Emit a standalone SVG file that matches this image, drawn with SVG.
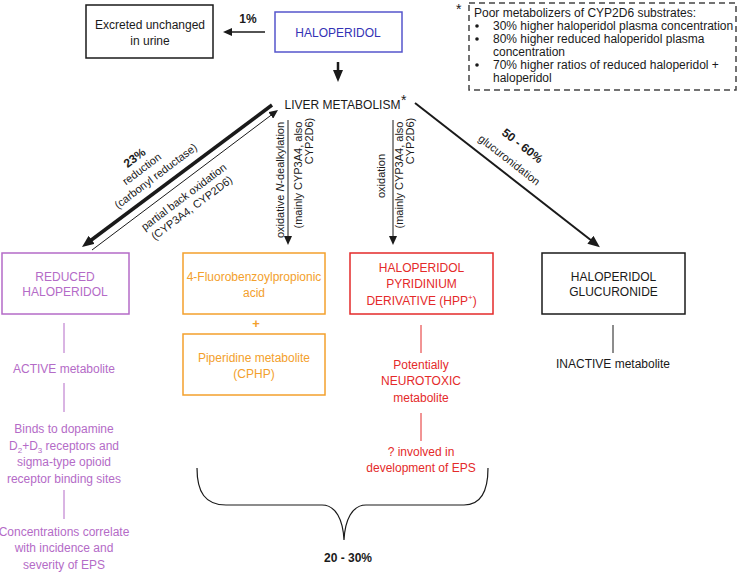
<svg xmlns="http://www.w3.org/2000/svg" width="738" height="572" viewBox="0 0 738 572">
<style>
text{font-family:"Liberation Sans",Arial,sans-serif;font-size:12px;fill:#1a1a1a}
.c{text-anchor:middle}
.s{font-size:11px}
.b{font-weight:bold}
.pu{fill:#b46bc7}
.or{fill:#f3a02c}
.rd{fill:#e42a2a}
.bl{fill:#3333b5}
.box{fill:#fff;stroke-width:1.5}
.ln{fill:none;stroke:#1a1a1a}
</style>
<defs>
<marker id="a" viewBox="0 0 9 8" refX="1" refY="4" markerWidth="9" markerHeight="8" orient="auto" markerUnits="userSpaceOnUse"><path d="M0,0 L9,4 L0,8 z" fill="#1a1a1a"/></marker>
<marker id="ab" viewBox="0 0 12 10" refX="2" refY="5" markerWidth="12" markerHeight="10" orient="auto" markerUnits="userSpaceOnUse"><path d="M0,0 L12,5 L0,10 z" fill="#1a1a1a"/></marker>
</defs>

<g id="connectors">
<line class="ln" x1="265" y1="32" x2="231" y2="32" stroke-width="1.3" marker-end="url(#a)"/>
<line class="ln" x1="338" y1="62" x2="338" y2="72" stroke-width="2.5" marker-end="url(#ab)"/>
<line class="ln" x1="272" y1="105" x2="90" y2="241" stroke-width="3.5" marker-end="url(#ab)"/>
<line class="ln" x1="92" y1="250" x2="271.6" y2="114.8" stroke-width="1" marker-end="url(#a)"/>
<line class="ln" x1="288" y1="120" x2="288" y2="237" stroke-width="1" marker-end="url(#a)"/>
<line class="ln" x1="393" y1="120" x2="393" y2="237" stroke-width="1" marker-end="url(#a)"/>
<line class="ln" x1="415" y1="103" x2="592" y2="241" stroke-width="2" marker-end="url(#ab)"/>
<line x1="64" y1="323" x2="64" y2="353" stroke="#b46bc7"/>
<line x1="64" y1="383" x2="64" y2="412" stroke="#b46bc7"/>
<line x1="64" y1="490" x2="64" y2="519" stroke="#b46bc7"/>
<line x1="421" y1="325" x2="421" y2="353" stroke="#e42a2a"/>
<line x1="421" y1="413" x2="421" y2="441" stroke="#e42a2a"/>
<line x1="613" y1="325" x2="613" y2="353" stroke="#1a1a1a"/>
<path class="ln" stroke="#333" stroke-width="1.2" d="M197,468 C197,492 205,505 226,505 L322,505 C336,505 343,520 344,540 C345,520 352,505 366,505 L464,505 C481,505 488,492 488,468"/>
<text class="c b" x="248" y="23">1%</text>
<text class="b" transform="translate(137,161) rotate(-37)" text-anchor="middle">23%</text>
<text class="s c" transform="translate(144,172) rotate(-37)">reduction</text>
<text class="s c" transform="translate(158,179) rotate(-37)">(carbonyl reductase)</text>
<text class="s c" transform="translate(186,200) rotate(-37)">partial back oxidation</text>
<text class="s c" transform="translate(194,211) rotate(-37)">(CYP3A4, CYP2D6)</text>
<text class="s c" transform="translate(283.5,180) rotate(-90)">oxidative <tspan font-style="italic">N</tspan>-dealkylation</text>
<text class="s c" transform="translate(301.5,175) rotate(-90)">(mainly CYP3A4, also</text>
<text class="s c" transform="translate(312.5,141) rotate(-90)">CYP2D6)</text>
<text class="s c" transform="translate(384.5,176) rotate(-90)">oxidation</text>
<text class="s c" transform="translate(402.5,175) rotate(-90)">(mainly CYP3A4, also</text>
<text class="s c" transform="translate(413.5,141) rotate(-90)">CYP2D6)</text>
<text class="b c" transform="translate(520,149) rotate(38)">50 - 60%</text>
<text class="s c" transform="translate(507,163) rotate(38)">glucuronidation</text>
<text class="c b" x="348" y="562">20 - 30%</text>
</g>

<g id="excreted">
<rect class="box" x="86" y="5" width="127" height="53" stroke="#1a1a1a"/>
<text class="c" x="150" y="29">Excreted unchanged</text>
<text class="c" x="150" y="45">in urine</text>
</g>

<g id="haloperidol">
<rect class="box" x="275" y="12" width="127" height="40" stroke="#5555cc"/>
<text class="c bl" x="338" y="37">HALOPERIDOL</text>
</g>

<g id="liver">
<text class="c" x="342.5" y="109">LIVER METABOLISM</text>
<text x="401" y="105" style="font-size:14px">*</text>
</g>

<g id="note">
<text x="456" y="14" style="font-size:14px">*</text>
<rect x="469" y="3" width="267" height="87" fill="none" stroke="#444" stroke-width="1.5" stroke-dasharray="6,4"/>
<text x="474" y="17">Poor metabolizers of CYP2D6 substrates:</text>
<circle cx="477" cy="26" r="1.8" fill="#1a1a1a"/>
<circle cx="477" cy="39" r="1.8" fill="#1a1a1a"/>
<circle cx="477" cy="65" r="1.8" fill="#1a1a1a"/>
<text x="493" y="30">30% higher haloperidol plasma concentration</text>
<text x="493" y="43">80% higher reduced haloperidol plasma</text>
<text x="493" y="56">concentration</text>
<text x="493" y="69">70% higher ratios of reduced haloperidol +</text>
<text x="493" y="82">haloperidol</text>
</g>

<g id="reduced">
<rect class="box" x="2" y="253" width="127" height="61" stroke="#b46bc7"/>
<text class="c pu" x="65" y="281">REDUCED</text>
<text class="c pu" x="65" y="296">HALOPERIDOL</text>
<text class="c pu" x="64" y="373">ACTIVE metabolite</text>
<text class="c pu" x="64" y="433">Binds to dopamine</text>
<text class="c pu" x="64" y="450">D<tspan font-size="8" dy="3">2</tspan><tspan dy="-3">+D</tspan><tspan font-size="8" dy="3">3</tspan><tspan dy="-3"> receptors and</tspan></text>
<text class="c pu" x="64" y="466">sigma-type opioid</text>
<text class="c pu" x="64" y="483">receptor binding sites</text>
<text class="c pu" x="64" y="536">Concentrations correlate</text>
<text class="c pu" x="64" y="552">with incidence and</text>
<text class="c pu" x="64" y="569">severity of EPS</text>
</g>

<g id="fluoro">
<rect class="box" x="183" y="253" width="142" height="61" stroke="#f3a02c"/>
<text class="c or" x="254" y="281">4-Fluorobenzoylpropionic</text>
<text class="c or" x="254" y="297">acid</text>
<text class="c or b" x="256" y="328" style="font-size:13px">+</text>
</g>

<g id="piperidine">
<rect class="box" x="183" y="334" width="142" height="61" stroke="#f3a02c"/>
<text class="c or" x="254" y="362">Piperidine metabolite</text>
<text class="c or" x="254" y="378">(CPHP)</text>
</g>

<g id="hpp">
<rect class="box" x="350" y="253" width="143" height="61" stroke="#e42a2a"/>
<text class="c rd" x="421.5" y="272">HALOPERIDOL</text>
<text class="c rd" x="421.5" y="288">PYRIDINIUM</text>
<text class="c rd" x="421.5" y="305">DERIVATIVE (HPP<tspan font-size="8" dy="-5">+</tspan><tspan dy="5">)</tspan></text>
<text class="c rd" x="421" y="369">Potentially</text>
<text class="c rd" x="421" y="385">NEUROTOXIC</text>
<text class="c rd" x="421" y="402">metabolite</text>
<text class="c rd" x="421" y="456">? involved in</text>
<text class="c rd" x="421" y="472">development of EPS</text>
</g>

<g id="glucuronide">
<rect class="box" x="542" y="253" width="143" height="61" stroke="#1a1a1a"/>
<text class="c" x="613.5" y="281">HALOPERIDOL</text>
<text class="c" x="613.5" y="296">GLUCURONIDE</text>
<text class="c" x="613" y="368">INACTIVE metabolite</text>
</g>
</svg>
